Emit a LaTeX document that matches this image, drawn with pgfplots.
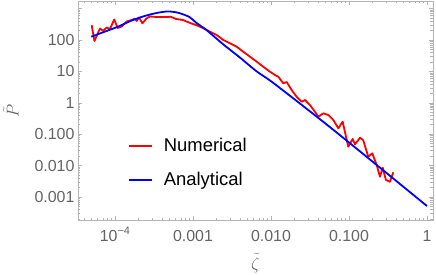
\documentclass[border=0pt]{standalone}
\usepackage{fontspec}
\setmainfont{Liberation Sans}
\usepackage{pgfplots}
\pgfplotsset{compat=1.18}
\definecolor{axgray}{RGB}{180,180,180}
\definecolor{labgray}{RGB}{100,100,100}
\definecolor{numred}{RGB}{255,0,0}
\definecolor{anblue}{RGB}{0,0,255}
\begin{document}
\begin{tikzpicture}
\begin{axis}[name=ax, scale only axis, width=355bp, height=219bp,
  xmode=log, ymode=log,
  xmin=3.36e-5, xmax=1.194, ymin=1.853e-4, ymax=1746,
  axis line style={axgray, line width=0.8bp},
  every tick/.style={axgray, line width=0.6bp},
  tick align=inside,
  major tick length=4bp, minor tick length=2.5bp,
  xtick={1e-4,1e-3,1e-2,1e-1,1},
  xticklabels={10\raisebox{0.42em}{\fontsize{11}{11}\selectfont −4},0.001,0.010,0.100,1},
  ytick={1e-3,1e-2,1e-1,1,10,100,1000},
  yticklabels={0.001,0.010,0.100,1,10,100,{}},
  minor xtick={4e-5,5e-5,6e-5,7e-5,8e-5,9e-5,2e-4,3e-4,4e-4,5e-4,6e-4,7e-4,8e-4,9e-4,2e-3,3e-3,4e-3,5e-3,6e-3,7e-3,8e-3,9e-3,2e-2,3e-2,4e-2,5e-2,6e-2,7e-2,8e-2,9e-2,0.2,0.3,0.4,0.5,0.6,0.7,0.8,0.9},
  minor ytick={2e-4,3e-4,4e-4,5e-4,6e-4,7e-4,8e-4,9e-4,2e-3,3e-3,4e-3,5e-3,6e-3,7e-3,8e-3,9e-3,2e-2,3e-2,4e-2,5e-2,6e-2,7e-2,8e-2,9e-2,0.2,0.3,0.4,0.5,0.6,0.7,0.8,0.9,2,3,4,5,6,7,8,9,20,30,40,50,60,70,80,90,200,300,400,500,600,700,800,900},
  /pgf/number format/assume math mode=true,
  ticklabel style={font=\fontsize{16}{16}\selectfont, text=labgray},
  xticklabel style={anchor=base, yshift=-21bp},
  xlabel={$\tilde{\zeta}$}, ylabel={$\tilde{P}$},
  label style={font=\fontsize{17}{17}\selectfont, text=labgray},
  xlabel style={at={(axis description cs:0.5,-0.196)}, anchor=center},
  ylabel style={at={(axis description cs:-0.189,0.5)}, anchor=center},
  legend cell align=left,
  legend image code/.code={\draw[#1] (0bp,0bp) -- (23bp,0bp);},
  legend style={draw=none, fill=none, inner sep=0pt, outer sep=0pt,
    at={(axis description cs:0.141,0.260)}, anchor=west,
    font=\fontsize{18.5}{18.5}\selectfont,
    nodes={text height=14bp, text depth=4bp, inner sep=0pt},
    row sep=16bp,
    /tikz/every odd column/.append style={column sep=11bp}},
]
\addplot[numred, line width=1.8bp, line join=round] coordinates {
(5.03e-5,300) (5.46e-5,92.9) (6.42e-5,232) (7.08e-5,194) (7.83e-5,250)
(8.63e-5,224) (9.80e-5,450) (1.083e-4,241) (1.219e-4,269) (1.413e-4,388)
(1.637e-4,433) (1.803e-4,477) (1.897e-4,403) (2.03e-4,521) (2.25e-4,340)
(2.53e-4,484) (2.81e-4,560) (3.45e-4,540) (4.25e-4,540) (5.22e-4,548)
(6.05e-4,467) (7.44e-4,433) (9.42e-4,340) (1.125e-3,294) (1.355e-3,236)
(1.652e-3,184) (2.01e-3,144) (2.45e-3,100) (2.98e-3,78.5) (3.63e-3,61.2)
(4.41e-3,42.4) (5.38e-3,29.4) (6.56e-3,20.4) (7.97e-3,14.1) (9.70e-3,9.78)
(1.125e-2,7.67) (1.240e-2,6.78) (1.44e-2,4.18) (1.589e-2,4.59) (1.84e-2,2.56)
(2.13e-2,1.56) (2.48e-2,1.08) (2.73e-2,1.23) (3.16e-2,0.851) (3.66e-2,0.521)
(4.04e-2,0.361) (4.69e-2,0.463) (5.43e-2,0.409) (6.30e-2,0.283) (7.30e-2,0.154)
(8.30e-2,0.250) (9.79e-2,0.040) (0.1115,0.0703) (0.1194,0.0476) (0.1384,0.0774)
(0.1525,0.0640) (0.1767,0.0192) (0.199,0.0246) (0.2265,0.01045) (0.2495,0.00443)
(0.2704,0.00857) (0.298,0.00348) (0.3357,0.00307) (0.370,0.00612)
};
\addlegendentry{Numerical}
\addplot[anblue, line width=1.8bp, smooth, tension=0.5] coordinates {
(4.97e-5,127) (7.38e-5,184) (1.092e-4,265) (1.618e-4,412) (2.40e-4,581)
(3.56e-4,740) (4.78e-4,809) (6.43e-4,740) (9.0e-4,540) (1.1e-3,355)
(1.5e-3,205) (2.44e-3,73) (4.01e-3,27.5) (6.56e-3,10.0) (1.07e-2,4.3)
(4.25e-2,0.30) (0.1256,0.0345) (1.0,5.16e-4)
};
\addlegendentry{Analytical}
\end{axis}
\pgfresetboundingbox
\path (ax.south west) ++(-78bp,-55bp) rectangle ++(436bp,275bp);
\end{tikzpicture}
\end{document}
